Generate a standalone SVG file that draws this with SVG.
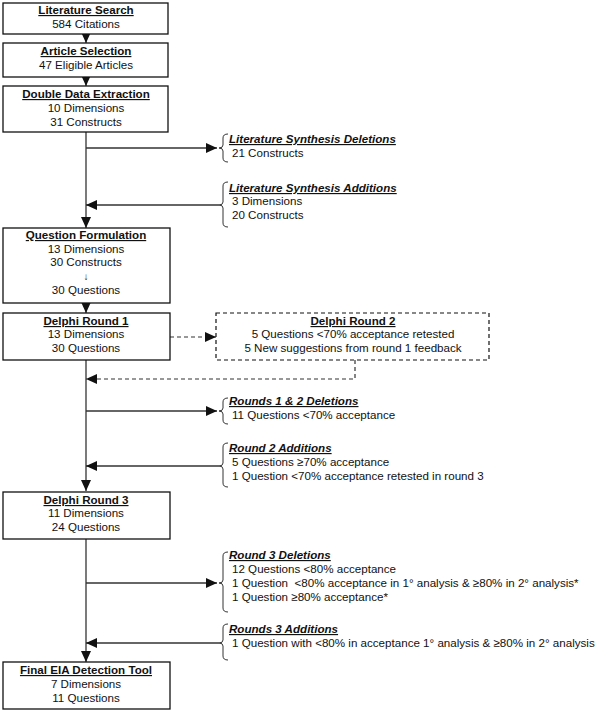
<svg xmlns="http://www.w3.org/2000/svg" width="600" height="715" viewBox="0 0 600 715">
<style>
text{font-family:"Liberation Sans",Arial,sans-serif;font-size:11.6px;fill:#111}
.c{text-anchor:middle}
.t{font-weight:bold;text-decoration:underline}
.s{font-weight:bold;font-style:italic;text-decoration:underline}
.box{fill:#fff;stroke:#111;stroke-width:1.3}
.dbox{fill:#fff;stroke:#111;stroke-width:1.2;stroke-dasharray:4 3}
.ln{fill:none;stroke:#333;stroke-width:1.3}
.dl{fill:none;stroke:#333;stroke-width:1.2;stroke-dasharray:4 3}
.br{fill:none;stroke:#333;stroke-width:1}
</style>
<defs>
<marker id="ah" markerUnits="userSpaceOnUse" markerWidth="11" markerHeight="10" refX="11" refY="5" orient="auto">
<path d="M0,0 L11,5 L0,10 z" fill="#111"/>
</marker>
</defs>
<g id="connectors">
<line class="ln" x1="86" y1="34" x2="86" y2="43" marker-end="url(#ah)"/>
<line class="ln" x1="86" y1="77" x2="86" y2="86" marker-end="url(#ah)"/>
<line class="ln" x1="86" y1="132" x2="86" y2="228" marker-end="url(#ah)"/>
<line class="ln" x1="86" y1="148" x2="217" y2="148" marker-end="url(#ah)"/>
<line class="ln" x1="219" y1="205" x2="86" y2="205" marker-end="url(#ah)"/>
<line class="ln" x1="86" y1="303" x2="86" y2="313" marker-end="url(#ah)"/>
<line class="dl" x1="170" y1="337" x2="216" y2="337" marker-end="url(#ah)"/>
<path class="dl" d="M355,360 L355,379 L86,379" marker-end="url(#ah)"/>
<line class="ln" x1="86" y1="360" x2="86" y2="491" marker-end="url(#ah)"/>
<line class="ln" x1="86" y1="411" x2="217" y2="411" marker-end="url(#ah)"/>
<line class="ln" x1="219" y1="466" x2="86" y2="466" marker-end="url(#ah)"/>
<line class="ln" x1="86" y1="539" x2="86" y2="662" marker-end="url(#ah)"/>
<line class="ln" x1="86" y1="583" x2="217" y2="583" marker-end="url(#ah)"/>
<line class="ln" x1="219" y1="643" x2="86" y2="643" marker-end="url(#ah)"/>
</g>
<g id="literature-search">
<rect class="box" x="3" y="3" width="165" height="31"/>
<text class="c t" x="86" y="14">Literature Search</text>
<text class="c" x="86" y="28">584 Citations</text>
</g>
<g id="article-selection">
<rect class="box" x="3" y="43" width="165" height="34"/>
<text class="c t" x="86" y="55">Article Selection</text>
<text class="c" x="86" y="69">47 Eligible Articles</text>
</g>
<g id="double-data-extraction">
<rect class="box" x="3" y="86" width="165" height="46"/>
<text class="c t" x="86" y="98">Double Data Extraction</text>
<text class="c" x="86" y="112">10 Dimensions</text>
<text class="c" x="86" y="126">31 Constructs</text>
</g>
<g id="lit-synth-deletions">
<path class="br" d="M228,134 Q223,134 223,138 L223,145 Q223,148 219,148 Q223,148 223,151 L223,158 Q223,162 228,162"/>
<text class="s" x="229" y="143">Literature Synthesis Deletions</text>
<text x="232" y="157">21 Constructs</text>
</g>
<g id="lit-synth-additions">
<path class="br" d="M228,182 Q223,182 223,186 L223,202 Q223,205 219,205 Q223,205 223,208 L223,223 Q223,227 228,227"/>
<text class="s" x="229" y="192">Literature Synthesis Additions</text>
<text x="232" y="205">3 Dimensions</text>
<text x="232" y="219">20 Constructs</text>
</g>
<g id="question-formulation">
<rect class="box" x="3" y="228" width="167" height="75"/>
<text class="c t" x="86" y="239">Question Formulation</text>
<text class="c" x="86" y="253">13 Dimensions</text>
<text class="c" x="86" y="266">30 Constructs</text>
<text class="c" x="86" y="280" style="font-size:10px">↓</text>
<text class="c" x="86" y="294">30 Questions</text>
</g>
<g id="delphi-round-1">
<rect class="box" x="3" y="313" width="167" height="47"/>
<text class="c t" x="86" y="325">Delphi Round 1</text>
<text class="c" x="86" y="338">13 Dimensions</text>
<text class="c" x="86" y="352">30 Questions</text>
</g>
<g id="delphi-round-2">
<rect class="dbox" x="216" y="313" width="273" height="47"/>
<text class="c t" x="353" y="325">Delphi Round 2</text>
<text class="c" x="353" y="338">5 Questions &lt;70% acceptance retested</text>
<text class="c" x="353" y="352">5 New suggestions from round 1 feedback</text>
</g>
<g id="rounds-1-2-deletions">
<path class="br" d="M228,398 Q223,398 223,402 L223,408 Q223,411 219,411 Q223,411 223,414 L223,420 Q223,424 228,424"/>
<text class="s" x="229" y="405">Rounds 1 &amp; 2 Deletions</text>
<text x="232" y="419">11 Questions &lt;70% acceptance</text>
</g>
<g id="round-2-additions">
<path class="br" d="M228,443 Q223,443 223,447 L223,463 Q223,466 219,466 Q223,466 223,469 L223,483 Q223,487 228,487"/>
<text class="s" x="229" y="452">Round 2 Additions</text>
<text x="232" y="466">5 Questions ≥70% acceptance</text>
<text x="232" y="480">1 Question &lt;70% acceptance retested in round 3</text>
</g>
<g id="delphi-round-3">
<rect class="box" x="3" y="492" width="167" height="47"/>
<text class="c t" x="86" y="504">Delphi Round 3</text>
<text class="c" x="86" y="517">11 Dimensions</text>
<text class="c" x="86" y="531">24 Questions</text>
</g>
<g id="round-3-deletions">
<path class="br" d="M228,552 Q223,552 223,556 L223,580 Q223,583 219,583 Q223,583 223,586 L223,608 Q223,612 228,612"/>
<text class="s" x="229" y="559">Round 3 Deletions</text>
<text x="232" y="573">12 Questions &lt;80% acceptance</text>
<text x="232" y="587" xml:space="preserve">1 Question  &lt;80% acceptance in 1° analysis &amp; ≥80% in 2° analysis*</text>
<text x="232" y="601">1 Question ≥80% acceptance*</text>
</g>
<g id="rounds-3-additions">
<path class="br" d="M228,624 Q223,624 223,628 L223,640 Q223,643 219,643 Q223,643 223,646 L223,656 Q223,660 228,660"/>
<text class="s" x="229" y="633">Rounds 3 Additions</text>
<text x="232" y="647">1 Question with &lt;80% in acceptance 1° analysis &amp; ≥80% in 2° analysis</text>
</g>
<g id="final-tool">
<rect class="box" x="3" y="662" width="167" height="47"/>
<text class="c t" x="86" y="674">Final EIA Detection Tool</text>
<text class="c" x="86" y="688">7 Dimensions</text>
<text class="c" x="86" y="702">11 Questions</text>
</g>
</svg>
